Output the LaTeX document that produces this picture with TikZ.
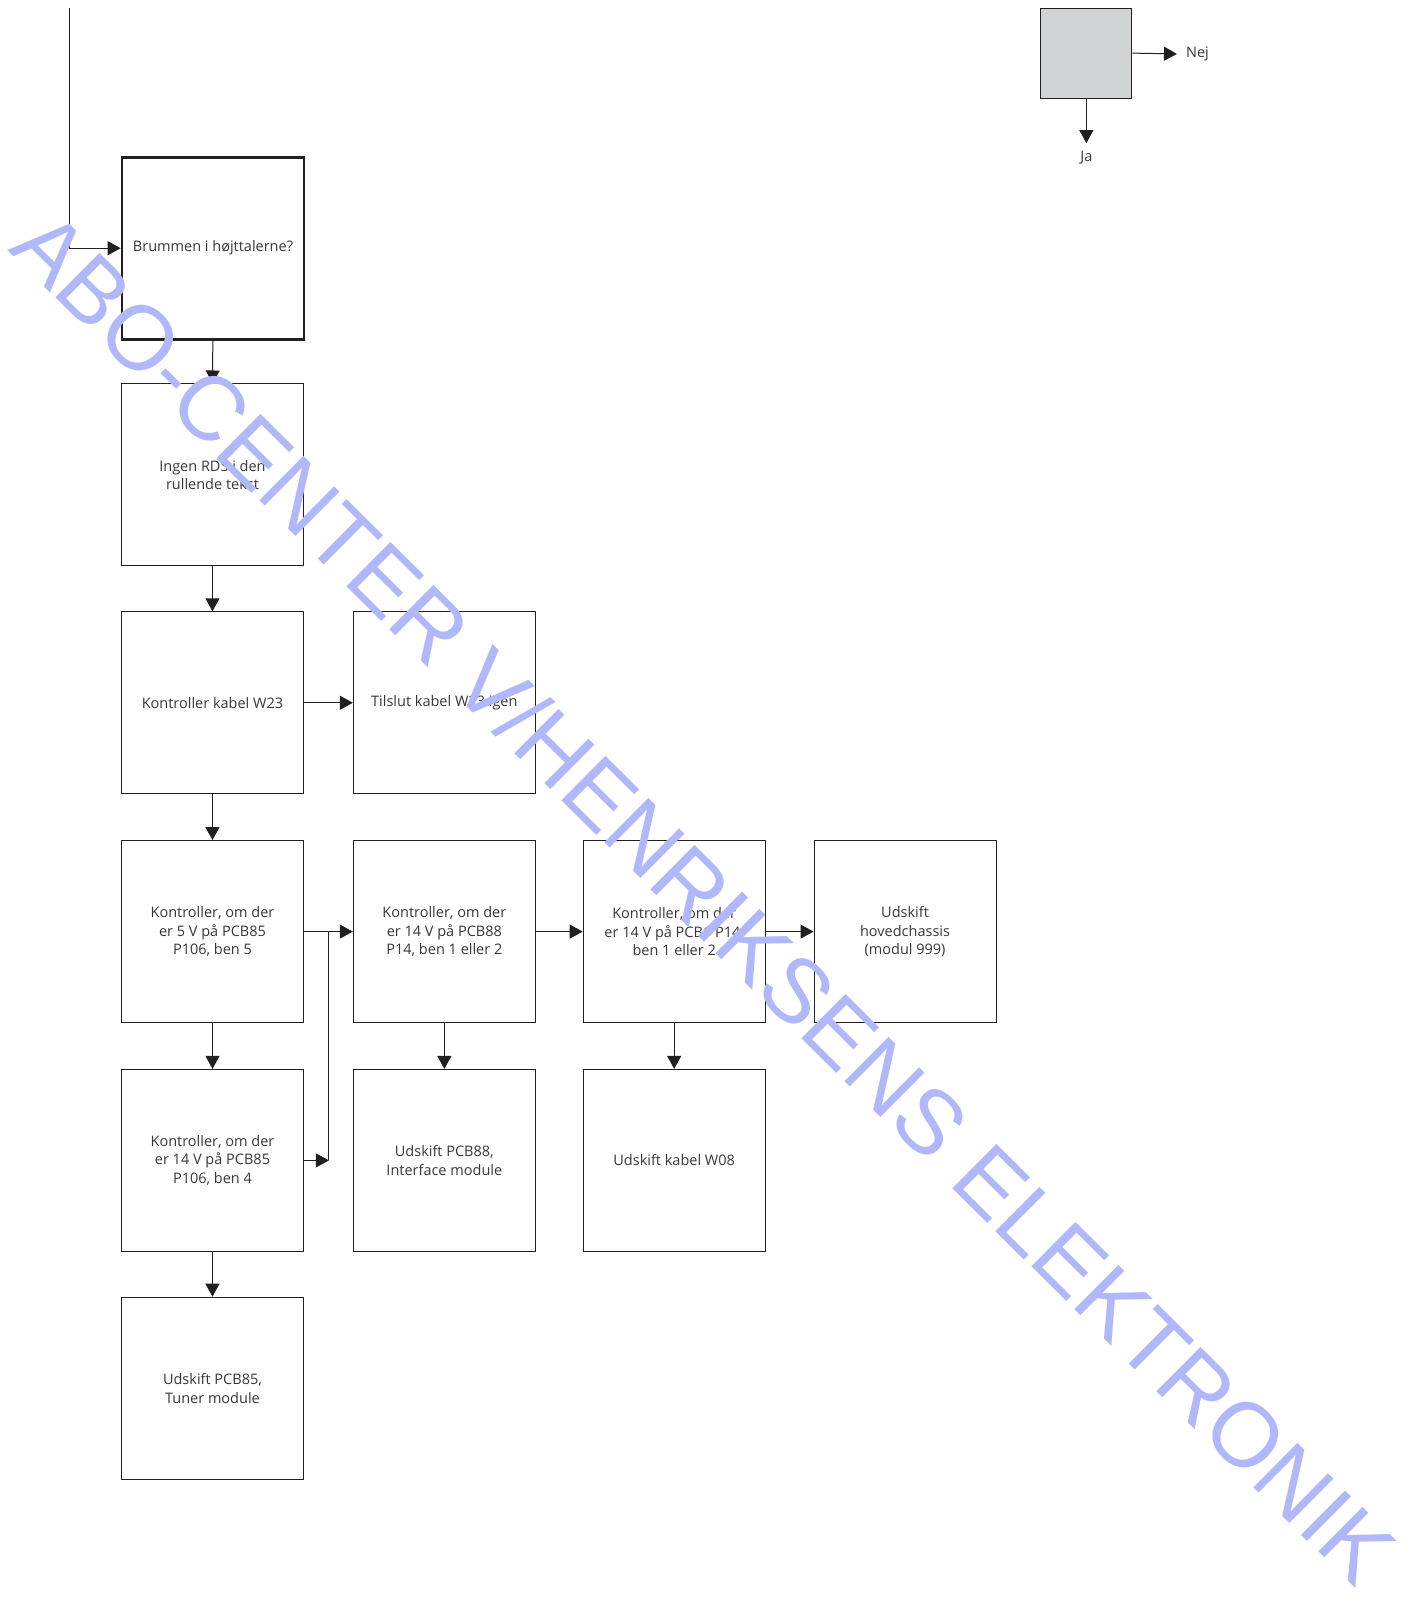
\documentclass[tikz,border=0pt]{standalone}
\usepackage{fontspec}
\setmainfont{Open Sans}
\newfontfamily\wmfont{Liberation Sans}
\usetikzlibrary{arrows.meta}
\definecolor{ink}{RGB}{35,31,32}
\definecolor{txt}{RGB}{55,55,55}
\definecolor{wmblue}{RGB}{176,184,250}
\definecolor{legendgray}{RGB}{209,210,212}

\begin{document}
\begin{tikzpicture}[x=1.0215pt, y=-1.0215pt,
    box/.style={draw=ink, line width=1pt, minimum width=182pt, minimum height=182pt,
        align=center, text=txt, inner sep=2pt, font=\fontsize{14.5}{18.8}\selectfont},
    arr/.style={draw=ink, line width=1pt, -{Triangle[length=13pt,width=14pt]}},
    lbl/.style={text=txt, inner sep=0pt, font=\fontsize{14.5}{19}\selectfont}
    ]
    \useasboundingbox (0,0) rectangle (1393,1568.3);

    % question box
    \node[box, line width=2.6pt] (b1) at (208.5,243) {Brummen i højttalerne?};
    \node[box] (b2) at (208,465) {Ingen RDS i den\\rullende tekst};

    % checks
    \node[box] (b3) at (208,688) {Kontroller kabel W23};
    \node[box] (b4) at (435,688) {Tilslut kabel W23 igen};
    \node[box] (b5) at (208,912) {Kontroller, om der\\er 5 V på PCB85\\P106, ben 5};
    \node[box] (b6) at (435,912) {Kontroller, om der\\er 14 V på PCB88\\P14, ben 1 eller 2};
    \node[box] (b7) at (660,912) {Kontroller, om der\\er 14 V på PCB1 P14,\\ben 1 eller 2};
    \node[box] (b8) at (886,912) {Udskift\\hovedchassis\\(modul 999)};
    \node[box] (b9) at (208,1136) {Kontroller, om der\\er 14 V på PCB85\\P106, ben 4};
    \node[box] (b10) at (435,1136) {Udskift PCB88,\\Interface module};
    \node[box] (b11) at (660,1136) {Udskift kabel W08};
    \node[box] (b12) at (208,1359) {Udskift PCB85,\\Tuner module};

    % legend
    \node[draw=ink, line width=1pt, fill=legendgray, minimum width=91pt, minimum height=90pt] (q) at (1063.5,52) {};
    \node[lbl, anchor=west] (nej) at (1161,53) {Nej};
    \node[lbl, anchor=north] (ja) at (1063.5,148) {Ja};

    \coordinate (start) at (68,8);
    \coordinate (m) at (322,912);

    \draw[arr] (start) |- (b1.west);
    \draw[arr] (b1) -- (b2);
    \draw[arr] (b2) -- (b3);
    \draw[arr] (b3) -- (b4);
    \draw[arr] (b3) -- (b5);
    \draw[arr] (b5) -- (b6);
    \draw[arr] (b6) -- (b7);
    \draw[arr] (b7) -- (b8);
    \draw[arr] (b5) -- (b9);
    \draw[arr] (b6) -- (b10);
    \draw[arr] (b7) -- (b11);
    \draw[arr] (b9) -- (b12);
    \draw[arr] (b9.east) -- (b9.east -| m);
    \draw[ink, line width=1pt] (b9.east -| m) -- (m);
    \draw[arr, shorten >=9pt] (q.east) -- (nej.west);
    \draw[arr, shorten >=8pt] (q.south) -- (ja.north);

    % watermark
    \node[text=wmblue, rotate=-44.8, inner sep=0pt, font=\wmfont\fontsize{91}{91}\selectfont] (wm) at (690,878) {ABO-CENTER V/HENRIKSENS ELEKTRONIK};
\end{tikzpicture}
\end{document}
